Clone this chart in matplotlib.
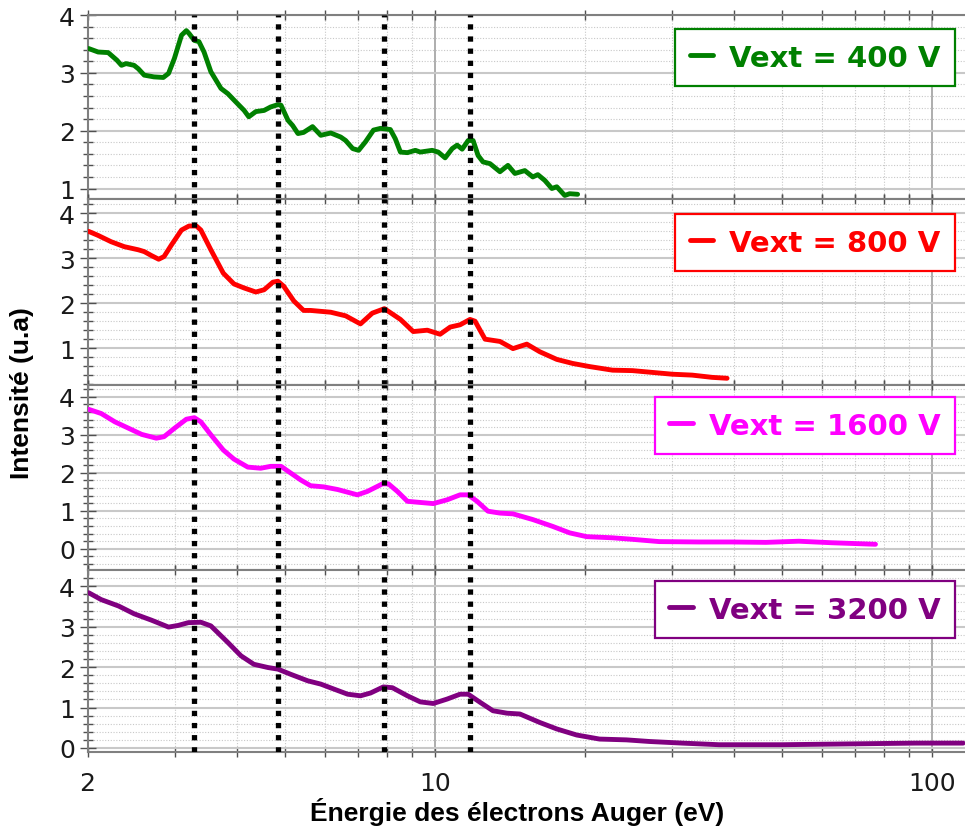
import matplotlib
matplotlib.use("Agg")
import matplotlib.pyplot as plt
from matplotlib.ticker import FixedLocator, MultipleLocator, NullFormatter


# Auger electron spectra for four extraction voltages (energy in eV, intensity in a.u.)
e_400 = [2.01, 2.10, 2.20, 2.29, 2.34, 2.39, 2.48, 2.53, 2.60, 2.72, 2.84, 2.91,
         2.99, 3.09, 3.16, 3.20, 3.28, 3.35, 3.43, 3.54, 3.71, 3.83, 3.94, 4.13,
         4.22, 4.36, 4.53, 4.67, 4.83, 4.90, 5.06, 5.17, 5.30, 5.44, 5.67, 5.89,
         6.17, 6.46, 6.61, 6.83, 7.02, 7.25, 7.52, 7.77, 8.13, 8.32, 8.52, 8.80,
         9.13, 9.34, 9.87, 10.15, 10.48, 10.83, 11.08, 11.34, 11.66, 11.93, 12.21,
         12.49, 12.90, 13.51, 14.02, 14.48, 15.16, 15.73, 16.10, 16.63, 17.18,
         17.58, 18.24, 18.66, 19.36]
i_400 = [3.42, 3.36, 3.35, 3.22, 3.13, 3.16, 3.13, 3.07, 2.96, 2.93, 2.92, 2.99,
         3.25, 3.65, 3.73, 3.68, 3.56, 3.54, 3.36, 3.02, 2.73, 2.64, 2.53, 2.35,
         2.24, 2.33, 2.35, 2.41, 2.45, 2.44, 2.18, 2.09, 1.95, 1.97, 2.07, 1.92,
         1.96, 1.89, 1.83, 1.69, 1.66, 1.81, 2.01, 2.04, 2.02, 1.86, 1.63, 1.62,
         1.66, 1.63, 1.66, 1.63, 1.53, 1.69, 1.75, 1.68, 1.83, 1.83, 1.57,
         1.46, 1.43, 1.29, 1.40, 1.26, 1.31, 1.20, 1.24, 1.14, 1.00,
         1.03, 0.88, 0.91, 0.90]

e_800 = [2.01, 2.10, 2.23, 2.37, 2.53, 2.60, 2.69, 2.78, 2.85, 2.95, 3.09, 3.20,
         3.31, 3.38, 3.54, 3.75, 3.94, 4.13, 4.36, 4.53, 4.72, 4.83, 4.96, 5.20,
         5.44, 5.62, 6.17, 6.61, 7.08, 7.48, 7.91, 8.52, 9.04, 9.65, 10.24,
         10.73, 11.23, 11.76, 12.04, 12.61, 13.51, 14.35, 15.30, 16.25, 17.58,
         18.92, 20.47, 22.76, 24.96, 27.38, 30.02, 32.92, 36.10, 38.69]
i_800 = [3.60, 3.51, 3.37, 3.26, 3.19, 3.15, 3.06, 2.98, 3.04, 3.30, 3.63, 3.72,
         3.72, 3.63, 3.19, 2.67, 2.43, 2.34, 2.25, 2.30, 2.47, 2.49, 2.38, 2.05,
         1.84, 1.84, 1.80, 1.72, 1.54, 1.78, 1.88, 1.64, 1.37, 1.40, 1.31,
         1.47, 1.52, 1.64, 1.60, 1.20, 1.15, 0.99, 1.09, 0.92, 0.75,
         0.66, 0.59, 0.51, 0.50, 0.46, 0.42, 0.40, 0.35, 0.33]

e_1600 = [2.01, 2.13, 2.27, 2.42, 2.57, 2.75, 2.85, 2.99, 3.16, 3.28, 3.38, 3.54,
          3.75, 3.94, 4.20, 4.46, 4.67, 4.90, 5.13, 5.37, 5.62, 5.97, 6.37, 6.98,
          7.31, 7.84, 8.06, 8.40, 8.80, 9.34, 9.92, 10.58, 11.23, 11.66, 12.15,
          12.78, 13.51, 14.35, 15.73, 17.25, 18.66, 20.19, 22.76, 24.96, 28.27,
          34.00, 39.59, 46.32, 53.94, 62.81, 76.95]
i_1600 = [3.67, 3.56, 3.34, 3.17, 3.01, 2.91, 2.95, 3.17, 3.41, 3.45, 3.34, 3.00,
          2.60, 2.36, 2.15, 2.12, 2.17, 2.17, 1.99, 1.81, 1.66, 1.63, 1.56, 1.42,
          1.51, 1.71, 1.71, 1.51, 1.25, 1.22, 1.19, 1.29, 1.42, 1.42, 1.25,
          0.99, 0.94, 0.92, 0.77, 0.59, 0.42, 0.32, 0.29, 0.25, 0.19,
          0.18, 0.18, 0.17, 0.20, 0.16, 0.12]

e_3200 = [2.01, 2.13, 2.31, 2.48, 2.69, 2.91, 3.04, 3.19, 3.38, 3.54, 3.83, 4.07,
          4.32, 4.61, 4.83, 5.13, 5.55, 5.89, 6.25, 6.67, 7.08, 7.42, 7.87, 8.21,
          8.80, 9.34, 9.92, 10.58, 11.23, 11.66, 12.32, 13.08, 13.96, 14.82,
          16.25, 17.58, 19.28, 21.43, 24.28, 27.00, 31.44, 37.29, 49.87, 67.94,
          92.57, 115.5]
i_3200 = [3.84, 3.67, 3.51, 3.32, 3.16, 2.99, 3.03, 3.10, 3.11, 3.02, 2.61, 2.28,
          2.07, 1.99, 1.95, 1.82, 1.66, 1.58, 1.46, 1.33, 1.29, 1.36, 1.51, 1.49,
          1.29, 1.14, 1.10, 1.21, 1.33, 1.33, 1.13, 0.92, 0.86, 0.84,
          0.63, 0.47, 0.32, 0.22, 0.20, 0.16, 0.12, 0.08, 0.08, 0.10,
          0.12, 0.12]

# Auger peak positions marked across all panels
peaks = [3.28, 4.83, 7.91, 11.76]

voltages = [400, 800, 1600, 3200]
energies = [e_400, e_800, e_1600, e_3200]
intensities = [i_400, i_800, i_1600, i_3200]
colors = ["#008000", "#ff0000", "#ff00ff", "#800080"]
ylims = [(0.81, 4.0), (0.18, 4.31), (-0.57, 4.31), (-0.10, 4.39)]
legend_tops = [30, 215, 398, 582]

W, H = 965, 829
fig = plt.figure(figsize=(W / 100, H / 100), dpi=100)
gs = fig.add_gridspec(4, 1, height_ratios=[185, 186, 186, 182], hspace=0,
                      left=87.6 / W, right=1.0, top=1 - 16 / H, bottom=1 - 753 / H)

minor_x = [3, 4, 5, 6, 7, 8, 9, 20, 30, 40, 50, 60, 70, 80, 90]

for k in range(4):
    ax = fig.add_subplot(gs[k])
    line, = ax.plot(energies[k], intensities[k], color=colors[k], lw=3.5,
                    solid_joinstyle="round", solid_capstyle="round", zorder=3)
    for p in peaks:
        ax.axvline(p, color="black", lw=3.8, ls=(0, (1, 1.3)), zorder=4)

    ax.set_xscale("log")
    ax.set_xlim(2, 116.5)
    ax.set_ylim(*ylims[k])
    ax.xaxis.set_major_locator(FixedLocator([2, 10, 100]))
    ax.xaxis.set_minor_locator(FixedLocator(minor_x))
    ax.xaxis.set_minor_formatter(NullFormatter())
    ax.set_xticklabels(["2", "10", "100"])
    ax.yaxis.set_major_locator(MultipleLocator(1))
    ax.yaxis.set_minor_locator(MultipleLocator(0.2))

    ax.set_axisbelow(True)
    ax.grid(which="major", axis="y", color="#c8c8c8", lw=1.5)
    ax.grid(which="minor", axis="y", color="#c8c8c8", lw=0.8, ls=(0, (1, 1.5)))
    ax.grid(which="major", axis="x", color="#a0a0a0", lw=1.2)
    ax.grid(which="minor", axis="x", color="#c8c8c8", lw=0.8, ls=(0, (1, 1.5)))

    for side in ["top", "bottom", "left"]:
        ax.spines[side].set_color("#808080")
        ax.spines[side].set_linewidth(1.5)
    ax.spines["right"].set_visible(False)

    ax.tick_params(axis="x", which="both", direction="inout", length=7, width=1,
                   color="#505050", top=True, bottom=True,
                   labelbottom=(k == 3), labelsize=18, pad=10.5)
    ax.tick_params(axis="y", which="major", direction="inout", length=12, width=1,
                   color="#505050", labelsize=18, pad=3)
    ax.tick_params(axis="y", which="minor", direction="inout", length=7, width=1,
                   color="#505050")
    for lab in ax.get_xticklabels() + ax.get_yticklabels():
        lab.set_fontfamily("DejaVu Sans")
        lab.set_color("#1a1a1a")

    leg = ax.legend([line], [f"Vext = {voltages[k]} V"], loc="upper right",
                    bbox_to_anchor=(955 / W, 1 - legend_tops[k] / H),
                    bbox_transform=fig.transFigure, borderaxespad=0,
                    fancybox=False, framealpha=1, edgecolor=colors[k],
                    prop=dict(family="DejaVu Sans", weight="bold", size=21),
                    labelcolor=colors[k], handlelength=0.8, handletextpad=0.55,
                    borderpad=0.5)
    leg.get_frame().set_linewidth(1.6)
    leg.set_zorder(5)

fig.text(22 / W, 1 - 393 / H, "Intensité (u.a)", rotation=90, ha="center",
         va="center", fontsize=19, fontweight="bold", family="Liberation Sans")
fig.text(517 / W, 1 - 812 / H, "Énergie des électrons Auger (eV)", ha="center",
         va="center", fontsize=19, fontweight="bold", family="Liberation Sans")

fig.savefig("out.png", dpi=100)
